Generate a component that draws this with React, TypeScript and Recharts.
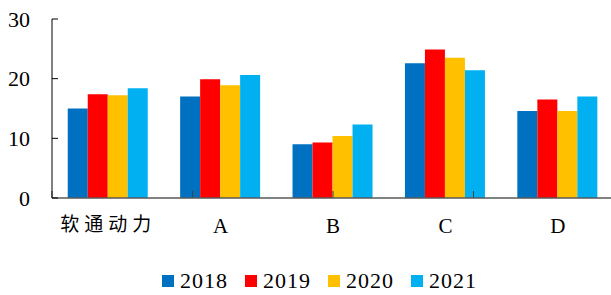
import { Bar, BarChart, Legend, XAxis, YAxis } from "recharts";

const categories = ["软通动力", "A", "B", "C", "D"];
const years = ["2018", "2019", "2020", "2021"];
const colors = ["#0070C0", "#FF0000", "#FFC000", "#00B0F0"];
const v2018 = [15.0, 17.0, 9.0, 22.6, 14.6];
const v2019 = [17.4, 19.9, 9.3, 24.9, 16.5];
const v2020 = [17.2, 18.9, 10.4, 23.5, 14.6];
const v2021 = [18.4, 20.6, 12.3, 21.4, 17.0];
const yTicks = [0, 10, 20, 30];
const boundaryTicks = [0, 1, 2, 3, 4, 5];

const series = [v2018, v2019, v2020, v2021];
const data = categories.map((name, i) => {
  const row: Record<string, string | number> = { name };
  years.forEach((y, k) => (row[y] = series[k][i]));
  return row;
});

const serif = "Liberation Serif";

const CategoryTick = ({ x, y, payload }: any) => {
  const cjk = /[^\x00-\x7f]/.test(payload.value);
  return (
    <text
      x={x}
      y={y}
      dy="0.71em"
      textAnchor="middle"
      fill="#000"
      fontSize={cjk ? 19 : 21}
      fontFamily={cjk ? "Noto Sans CJK SC" : serif}
      letterSpacing={cjk ? 5 : 0}
    >
      {payload.value}
    </text>
  );
};

const NoLabel = () => <g />;

const legendContent = ({ payload }: any) => (
  <svg width={611} height={35} style={{ display: "block" }}>
    {(payload ?? []).map((p: any, i: number) => (
      <g key={p.value} transform={`translate(${162 + i * 83}, 0)`}>
        <rect x={0} y={15} width={12} height={12} fill={p.color} />
        <text x={18} y={28} fontSize={22} fontFamily={serif} fill="#000" textLength={47}>
          {p.value}
        </text>
      </g>
    ))}
  </svg>
);

export default function App() {
  return (
    <div
      style={{
        position: "fixed",
        top: 0,
        left: 0,
        width: 611,
        height: 295,
        overflow: "hidden",
        background: "#fff",
      }}
    >
      <BarChart
        width={614}
        height={295}
        data={data}
        margin={{ top: 19, right: 0, left: 0, bottom: 0 }}
        barCategoryGap="14%"
        barGap={0}
      >
        <XAxis
          xAxisId="bounds"
          type="number"
          domain={[0, 5]}
          allowDataOverflow
          ticks={boundaryTicks}
          height={1}
          mirror
          axisLine={false}
          tick={<NoLabel />}
          tickSize={7}
          stroke="#404040"
        />
        <XAxis
          dataKey="name"
          height={62}
          stroke="#595959"
          strokeWidth={1.5}
          tickLine={false}
          tickSize={6}
          tickMargin={14}
          tick={<CategoryTick />}
          interval={0}
        />
        <YAxis
          width={52}
          domain={[0, 30]}
          ticks={yTicks}
          stroke="#000"
          tickSize={-6}
          tickMargin={28}
          tick={{ fill: "#000", fontSize: 22, fontFamily: serif }}
        />
        <Legend verticalAlign="bottom" wrapperStyle={{ left: 0 }} content={legendContent} />
        {years.map((y, k) => (
          <Bar key={y} dataKey={y} fill={colors[k]} isAnimationActive={false} />
        ))}
      </BarChart>
    </div>
  );
}
